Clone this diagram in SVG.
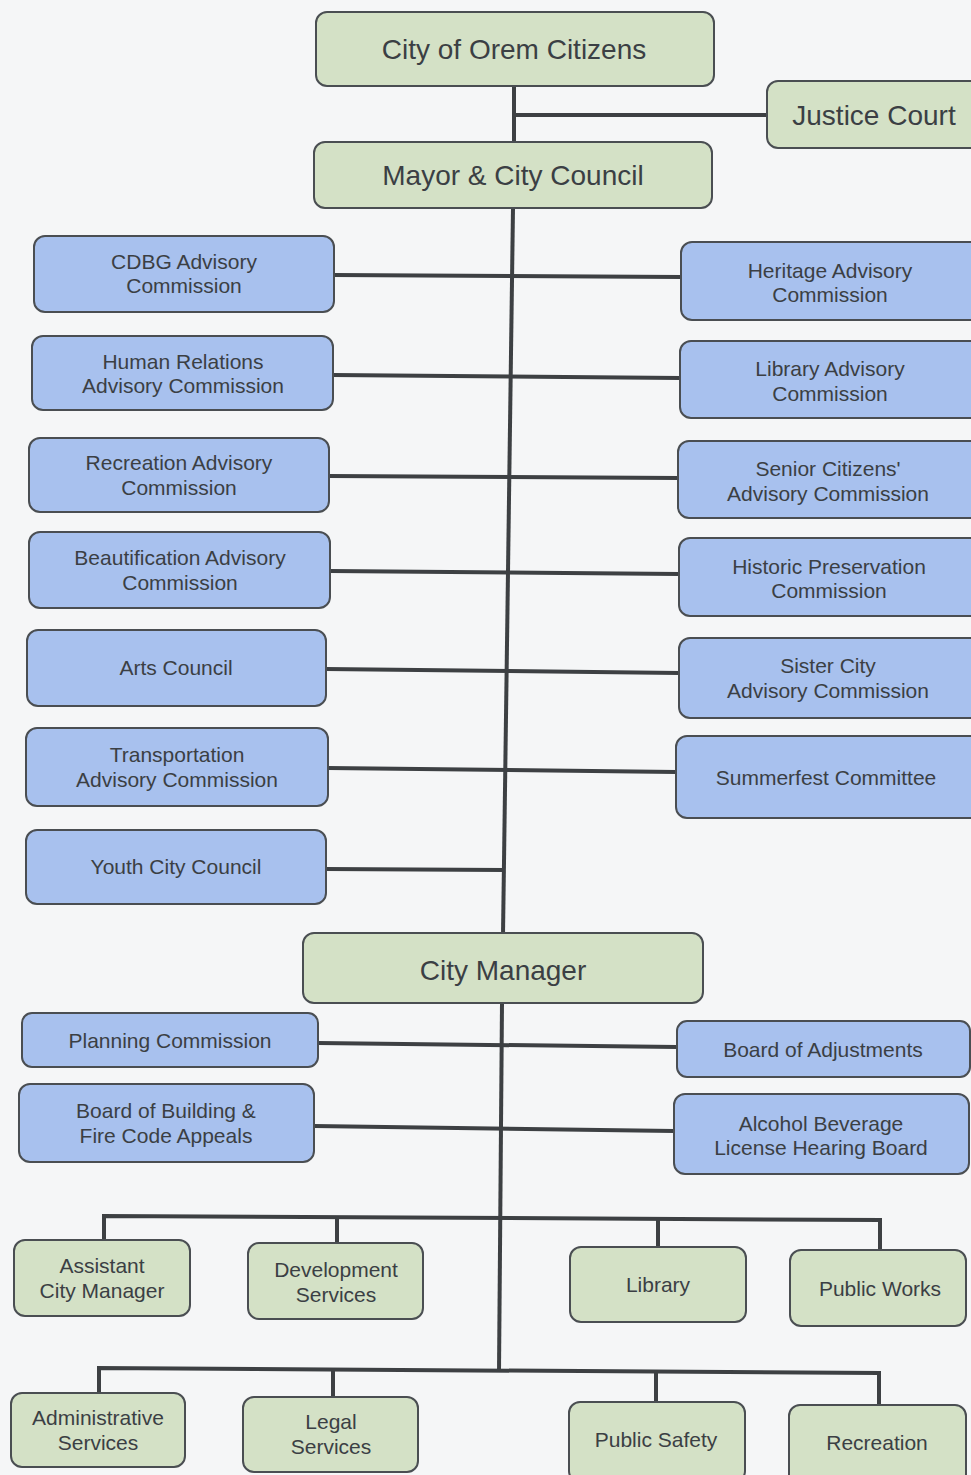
<svg xmlns="http://www.w3.org/2000/svg" width="971" height="1475" viewBox="0 0 971 1475">
<style>
.g{fill:#d4e1c6;stroke:#4a4e52;stroke-width:2}
.b{fill:#a8c1ee;stroke:#4a4e52;stroke-width:2}
text{font-family:"Liberation Sans",Arial,sans-serif;fill:#3b3f44;text-anchor:middle}
.s{font-size:21px}
.l{font-size:28px}
.c{stroke:#3d4043;stroke-width:4;fill:none}
</style>
<rect width="971" height="1475" fill="#f5f6f7"/>
<g id="connectors">
<line class="c" x1="514" y1="86" x2="514" y2="142"/>
<line class="c" x1="514" y1="115" x2="767" y2="115"/>
<line class="c" x1="513" y1="208" x2="503" y2="935"/>
<line class="c" x1="334" y1="275" x2="681" y2="277"/>
<line class="c" x1="333" y1="375" x2="680" y2="378"/>
<line class="c" x1="329" y1="476" x2="678" y2="478"/>
<line class="c" x1="330" y1="571" x2="679" y2="574"/>
<line class="c" x1="326" y1="669" x2="679" y2="673"/>
<line class="c" x1="328" y1="768" x2="676" y2="772"/>
<line class="c" x1="326" y1="869" x2="504" y2="870"/>
<line class="c" x1="502" y1="1003" x2="499" y2="1372"/>
<line class="c" x1="318" y1="1043" x2="677" y2="1047"/>
<line class="c" x1="314" y1="1126" x2="674" y2="1131"/>
<polyline class="c" points="104,1240 104,1216 880,1220 880,1250"/>
<line class="c" x1="337" y1="1217" x2="337" y2="1243"/>
<line class="c" x1="658" y1="1219" x2="658" y2="1247"/>
<polyline class="c" points="99,1393 99,1368 879,1373 879,1405"/>
<line class="c" x1="333" y1="1369" x2="333" y2="1397"/>
<line class="c" x1="656" y1="1371" x2="656" y2="1402"/>
</g>
<g id="citizens"><rect class="g" x="316" y="12" width="398" height="74" rx="11"/><text class="l" x="514" y="59">City of Orem Citizens</text></g>
<g id="justice"><rect class="g" x="767" y="81" width="214" height="67" rx="11"/><text class="l" x="874" y="125">Justice Court</text></g>
<g id="mayor"><rect class="g" x="314" y="142" width="398" height="66" rx="11"/><text class="l" x="513" y="185">Mayor &amp; City Council</text></g>

<g id="cdbg"><rect class="b" x="34" y="236" width="300" height="76" rx="11"/><text class="s" x="184" y="269">CDBG Advisory</text><text class="s" x="184" y="293">Commission</text></g>
<g id="human"><rect class="b" x="32" y="336" width="301" height="74" rx="11"/><text class="s" x="183" y="369">Human Relations</text><text class="s" x="183" y="393">Advisory Commission</text></g>
<g id="recadv"><rect class="b" x="29" y="438" width="300" height="74" rx="11"/><text class="s" x="179" y="470">Recreation Advisory</text><text class="s" x="179" y="495">Commission</text></g>
<g id="beaut"><rect class="b" x="29" y="532" width="301" height="76" rx="11"/><text class="s" x="180" y="565">Beautification Advisory</text><text class="s" x="180" y="590">Commission</text></g>
<g id="arts"><rect class="b" x="27" y="630" width="299" height="76" rx="11"/><text class="s" x="176" y="675">Arts Council</text></g>
<g id="transp"><rect class="b" x="26" y="728" width="302" height="78" rx="11"/><text class="s" x="177" y="762">Transportation</text><text class="s" x="177" y="787">Advisory Commission</text></g>
<g id="youth"><rect class="b" x="26" y="830" width="300" height="74" rx="11"/><text class="s" x="176" y="874">Youth City Council</text></g>

<g id="heritage"><rect class="b" x="681" y="242" width="300" height="78" rx="11"/><text class="s" x="830" y="278">Heritage Advisory</text><text class="s" x="830" y="302">Commission</text></g>
<g id="libadv"><rect class="b" x="680" y="341" width="301" height="77" rx="11"/><text class="s" x="830" y="376">Library Advisory</text><text class="s" x="830" y="401">Commission</text></g>
<g id="senior"><rect class="b" x="678" y="441" width="303" height="77" rx="11"/><text class="s" x="828" y="476">Senior Citizens'</text><text class="s" x="828" y="501">Advisory Commission</text></g>
<g id="historic"><rect class="b" x="679" y="538" width="302" height="78" rx="11"/><text class="s" x="829" y="574">Historic Preservation</text><text class="s" x="829" y="598">Commission</text></g>
<g id="sister"><rect class="b" x="679" y="638" width="302" height="80" rx="11"/><text class="s" x="828" y="673">Sister City</text><text class="s" x="828" y="698">Advisory Commission</text></g>
<g id="summerfest"><rect class="b" x="676" y="736" width="305" height="82" rx="11"/><text class="s" x="826" y="785">Summerfest Committee</text></g>

<g id="manager"><rect class="g" x="303" y="933" width="400" height="70" rx="11"/><text class="l" x="503" y="980">City Manager</text></g>

<g id="planning"><rect class="b" x="22" y="1013" width="296" height="54" rx="10"/><text class="s" x="170" y="1048">Planning Commission</text></g>
<g id="adjust"><rect class="b" x="677" y="1021" width="293" height="56" rx="10"/><text class="s" x="823" y="1057">Board of Adjustments</text></g>
<g id="building"><rect class="b" x="19" y="1084" width="295" height="78" rx="11"/><text class="s" x="166" y="1118">Board of Building &amp;</text><text class="s" x="166" y="1143">Fire Code Appeals</text></g>
<g id="alcohol"><rect class="b" x="674" y="1094" width="295" height="80" rx="11"/><text class="s" x="821" y="1131">Alcohol Beverage</text><text class="s" x="821" y="1155">License Hearing Board</text></g>

<g id="asst"><rect class="g" x="14" y="1240" width="176" height="76" rx="11"/><text class="s" x="102" y="1273">Assistant</text><text class="s" x="102" y="1298">City Manager</text></g>
<g id="dev"><rect class="g" x="248" y="1243" width="175" height="76" rx="11"/><text class="s" x="336" y="1277">Development</text><text class="s" x="336" y="1302">Services</text></g>
<g id="library"><rect class="g" x="570" y="1247" width="176" height="75" rx="11"/><text class="s" x="658" y="1292">Library</text></g>
<g id="pworks"><rect class="g" x="790" y="1250" width="176" height="76" rx="11"/><text class="s" x="880" y="1296">Public Works</text></g>

<g id="admin"><rect class="g" x="11" y="1393" width="174" height="74" rx="11"/><text class="s" x="98" y="1425">Administrative</text><text class="s" x="98" y="1450">Services</text></g>
<g id="legal"><rect class="g" x="243" y="1397" width="175" height="75" rx="11"/><text class="s" x="331" y="1429">Legal</text><text class="s" x="331" y="1454">Services</text></g>
<g id="psafety"><rect class="g" x="569" y="1402" width="176" height="80" rx="11"/><text class="s" x="656" y="1447">Public Safety</text></g>
<g id="recreation"><rect class="g" x="789" y="1405" width="177" height="80" rx="11"/><text class="s" x="877" y="1450">Recreation</text></g>
</svg>
